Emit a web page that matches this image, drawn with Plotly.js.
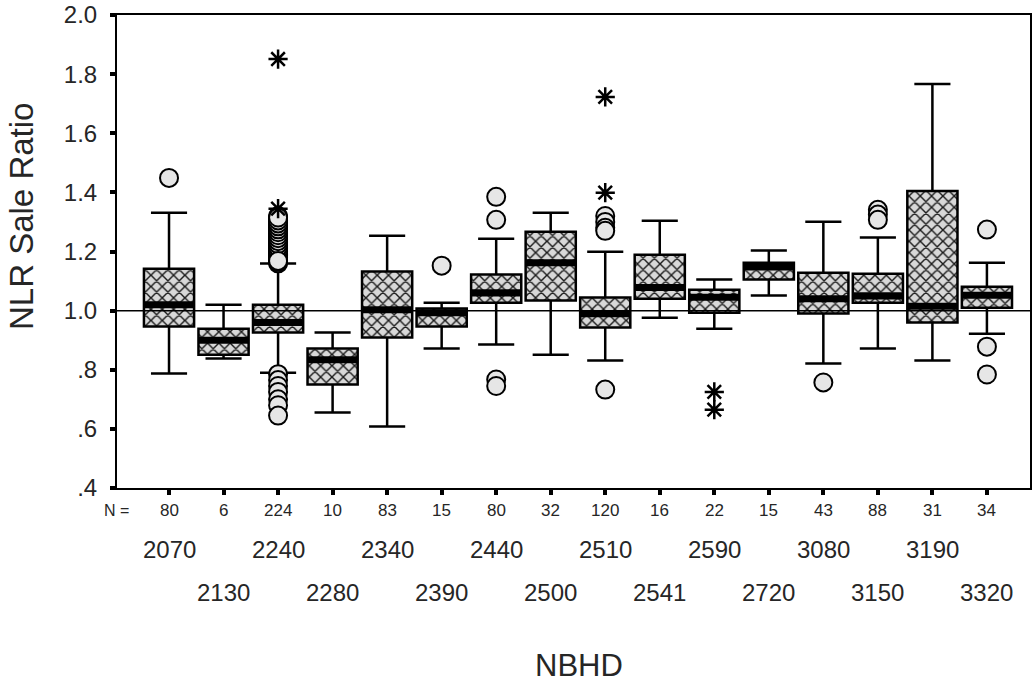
<!DOCTYPE html>
<html>
<head>
<meta charset="utf-8">
<script src="https://cdn.plot.ly/plotly-3.0.1.min.js"></script>
<style>
  html, body { margin: 0; padding: 0; background: #fff; }
  #chart { width: 1032px; height: 686px; }
</style>
</head>
<body>
<div id="chart"></div>
<script>
// ---- Data ----
const categories = ['2070','2130','2240','2280','2340','2390','2440','2500','2510','2541','2590','2720','3080','3150','3190','3320'];
const counts = [80, 6, 224, 10, 83, 15, 80, 32, 120, 16, 22, 15, 43, 88, 31, 34];
const q1 = [0.946, 0.851, 0.926, 0.750, 0.909, 0.946, 1.027, 1.034, 0.943, 1.040, 0.993, 1.105, 0.990, 1.027, 0.960, 1.010];
const medians = [1.020, 0.900, 0.960, 0.834, 1.003, 0.993, 1.060, 1.162, 0.990, 1.078, 1.045, 1.148, 1.040, 1.050, 1.015, 1.052];
const q3 = [1.142, 0.939, 1.020, 0.872, 1.132, 1.007, 1.122, 1.267, 1.044, 1.189, 1.071, 1.162, 1.128, 1.125, 1.405, 1.081];
const lowerWhisker = [0.787, 0.838, 0.790, 0.655, 0.608, 0.872, 0.885, 0.851, 0.831, 0.976, 0.939, 1.051, 0.821, 0.872, 0.831, 0.922];
const upperWhisker = [1.331, 1.020, 1.159, 0.926, 1.253, 1.027, 1.243, 1.331, 1.199, 1.304, 1.105, 1.203, 1.301, 1.247, 1.767, 1.162];

// outliers (circles) : category + value
const circleCat = ['2070',
  '2240','2240','2240','2240','2240','2240','2240','2240','2240','2240','2240','2240','2240','2240','2240','2240','2240',
  '2240','2240','2240','2240','2240','2240','2240','2240','2240','2240','2240','2240','2240','2240','2240','2240','2240',
  '2240','2240','2240','2240','2240','2240','2240',
  '2390',
  '2440','2440','2440','2440',
  '2510','2510','2510','2510','2510',
  '3080',
  '3150','3150','3150',
  '3320','3320','3320'];
const circleVal = [1.449,
  1.160,1.170,1.180,1.190,1.200,1.210,1.220,1.230,1.240,1.250,1.260,1.270,1.280,1.290,1.300,1.310,1.320,
  1.165,1.175,1.185,1.195,1.205,1.215,1.225,1.235,1.245,1.255,1.265,1.275,1.285,1.295,1.305,1.315,1.168,
  0.785,0.765,0.745,0.725,0.700,0.680,0.645,
  1.152,
  1.385,1.307,0.767,0.745,
  1.320,1.300,1.280,1.270,0.733,
  0.757,
  1.341,1.325,1.307,
  1.274,0.878,0.784];

// extreme values (stars)
const starCat = ['2240','2240','2510','2510','2590','2590'];
const starVal = [1.851, 1.345, 1.723, 1.399, 0.725, 0.665];

const yTickVals = [0.4, 0.6, 0.8, 1.0, 1.2, 1.4, 1.6, 1.8, 2.0];
const yTickText = ['.4', '.6', '.8', '1.0', '1.2', '1.4', '1.6', '1.8', '2.0'];

// ---- Build traces ----
const pos = categories.map((c, i) => i);
const idx = c => categories.indexOf(c);
const FONT = 'Liberation Sans, Arial, sans-serif';
const TXT = '#262626';

const boxBars = {
  type: 'bar',
  x: pos,
  base: q1,
  y: q3.map((v, i) => v - q1[i]),
  width: 0.92,
  marker: {
    color: '#d4d4d4',
    line: { width: 0 },
    pattern: { shape: 'x', fgcolor: '#1a1a1a', bgcolor: '#d8d8d8', size: 8, solidity: 0.32 }
  },
  hoverinfo: 'skip',
  showlegend: false
};

const medianBars = {
  type: 'bar',
  x: pos,
  base: medians.map(m => m - 0.012),
  y: medians.map(() => 0.024),
  width: 0.92,
  marker: { color: '#000', line: { width: 0 } },
  hoverinfo: 'skip',
  showlegend: false
};

const boxes = {
  type: 'box',
  x: pos,
  q1: q1,
  median: medians,
  q3: q3,
  lowerfence: lowerWhisker,
  upperfence: upperWhisker,
  width: 0.92,
  whiskerwidth: 0.72,
  fillcolor: 'rgba(0,0,0,0)',
  line: { color: '#000', width: 2.5 },
  boxpoints: false,
  hoverinfo: 'skip',
  showlegend: false
};

const circles = {
  type: 'scatter',
  mode: 'markers',
  x: circleCat.map(idx),
  y: circleVal,
  marker: { symbol: 'circle', size: 18, color: '#e6e6e6', line: { color: '#000', width: 2 } },
  hoverinfo: 'skip',
  showlegend: false,
  cliponaxis: false
};

const stars = {
  type: 'scatter',
  mode: 'markers',
  x: starCat.map(idx),
  y: starVal,
  marker: { symbol: 'asterisk-open', size: 16, color: '#000', line: { color: '#000', width: 2.5 } },
  hoverinfo: 'skip',
  showlegend: false
};

// ---- Annotations (N counts, staggered category labels, titles) ----
const annotations = [];
annotations.push({ xref: 'paper', yref: 'paper', x: -0.001, y: -0.0486, text: 'N =', showarrow: false,
  xanchor: 'center', yanchor: 'middle', font: { family: FONT, size: 16, color: TXT } });
counts.forEach((n, i) => {
  annotations.push({ xref: 'x', yref: 'paper', x: i, y: -0.0486, text: String(n), showarrow: false,
    xanchor: 'center', yanchor: 'middle', font: { family: FONT, size: 17, color: TXT } });
});
categories.forEach((c, i) => {
  annotations.push({ xref: 'x', yref: 'paper', x: i, y: (i % 2 === 0) ? -0.131 : -0.220, text: c, showarrow: false,
    xanchor: 'center', yanchor: 'middle', font: { family: FONT, size: 24, color: TXT } });
});
annotations.push({ xref: 'paper', yref: 'paper', x: 0.506, y: -0.376, text: 'NBHD', showarrow: false,
  xanchor: 'center', yanchor: 'middle', font: { family: FONT, size: 31, color: TXT } });
annotations.push({ xref: 'paper', yref: 'paper', x: -0.104, y: 0.573, text: 'NLR Sale Ratio', showarrow: false,
  textangle: -90, xanchor: 'center', yanchor: 'middle', font: { family: FONT, size: 33, color: TXT } });

const layout = {
  width: 1032,
  height: 686,
  paper_bgcolor: '#fff',
  plot_bgcolor: '#fff',
  margin: { l: 117, r: 2, t: 15, b: 198 },
  barmode: 'overlay',
  showlegend: false,
  xaxis: {
    type: 'linear',
    range: [-0.954, 15.79],
    tickvals: pos,
    ticktext: pos.map(() => ''),
    ticks: 'outside',
    ticklen: 5,
    tickwidth: 4,
    tickcolor: '#000',
    showgrid: false,
    zeroline: false,
    showline: true,
    linecolor: '#000',
    linewidth: 2,
    mirror: true
  },
  yaxis: {
    range: [0.4, 2.0],
    tickvals: yTickVals,
    ticktext: yTickText,
    ticks: 'outside',
    ticklen: 5,
    tickwidth: 4,
    tickcolor: '#000',
    ticklabelstandoff: 8,
    tickfont: { family: FONT, size: 24, color: TXT },
    showgrid: false,
    zeroline: false,
    showline: true,
    linecolor: '#000',
    linewidth: 2,
    mirror: true
  },
  shapes: [{
    type: 'line', xref: 'paper', yref: 'y', x0: 0, x1: 1, y0: 1.0, y1: 1.0,
    line: { color: '#000', width: 1.5 }, layer: 'above'
  }],
  annotations: annotations
};

Plotly.newPlot('chart', [boxBars, medianBars, boxes, circles, stars], layout, { displayModeBar: false, staticPlot: true });
</script>
</body>
</html>
